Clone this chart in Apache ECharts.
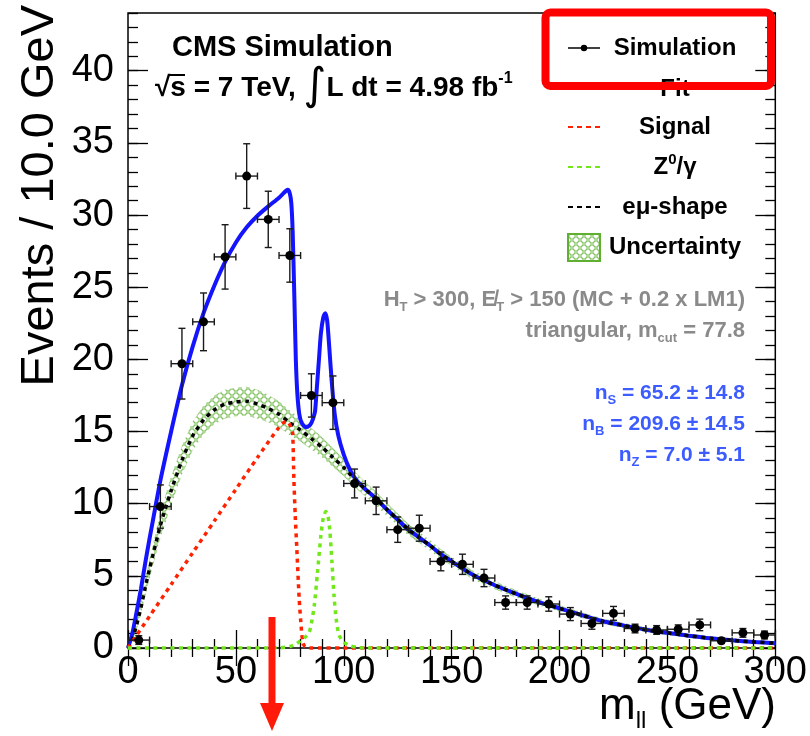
<!DOCTYPE html>
<html><head><meta charset="utf-8">
<script src="https://cdn.jsdelivr.net/npm/echarts@6/dist/echarts.min.js"></script>
<style>html,body{margin:0;padding:0;background:#fff}#c{width:810px;height:736px}</style>
</head><body><div id="c"></div>
<script>
// ---------------- data ----------------
const xTickValues = [0, 50, 100, 150, 200, 250, 300];
const yTickValues = [0, 5, 10, 15, 20, 25, 30, 35, 40];
const yMax = 44;
const binWidth = 10;

const binCenters = [5,15,25,35,45,55,65,75,85,95,105,115,125,135,145,155,165,175,185,195,205,215,225,235,245,255,265,275,285,295];
const simValues  = [0.55,9.8,19.7,22.6,27.1,32.7,29.7,27.2,17.5,17.0,11.4,10.2,8.2,8.3,6.0,5.8,4.85,3.15,3.15,3.05,2.35,1.7,2.4,1.35,1.25,1.3,1.6,0.5,1.05,0.9];
const simErrors  = [0.3,1.5,2.45,2.0,2.23,2.24,1.95,1.85,1.5,1.85,1.0,0.95,0.88,0.9,0.65,0.7,0.6,0.46,0.46,0.5,0.45,0.4,0.48,0.3,0.3,0.3,0.4,0.18,0.3,0.27];

const fitX = [0,2,4,6,8,10,12,15,20,25,30,35,40,45,50,55,60,65,70,72,74,75,75.7,76.3,77.1,77.8,78.5,79.4,80.5,82.5,84,85,86,86.7,87.5,88.5,89.4,90.5,91.4,92.3,93.2,94.4,95.8,97.5,100,103,106,110,115,120,125,130,135,140,145,150,160,170,180,190,200,210,220,230,240,250,260,270,280,290,300];
const fitY = [0,1.0,2.5,4.1,5.9,7.6,9.2,11.6,15.0,18.2,20.9,23.2,25.1,26.75,28.1,29.15,29.95,30.6,31.2,31.5,31.75,31.5,30.8,28.9,24.3,19.9,17.6,16.2,15.6,15.3,15.4,15.6,16.0,16.4,18.0,20.0,21.8,22.9,23.2,22.7,21.0,18.5,16.2,14.7,13.4,12.3,11.6,11.0,10.35,9.6,8.9,8.2,7.65,7.1,6.5,6.0,5.05,4.35,3.75,3.2,2.75,2.3,1.85,1.55,1.27,1.05,0.85,0.67,0.53,0.42,0.33];

const emuX = [0,2,4,6,8,10,12,15,20,25,30,35,40,45,50,55,60,65,70,75,80,85,90,95,100,105,110,115,120,125,130,135,140,145,150,160,170,180,190,200,210,220,230,240,250,260,270,280,290,300];
const emuY = [0,0.6,1.6,2.8,4.2,5.5,6.7,8.5,10.9,13.0,14.7,15.8,16.5,16.9,17.05,17.1,16.9,16.6,16.2,15.6,15.1,14.5,13.9,13.2,12.5,11.7,11.0,10.35,9.6,8.9,8.2,7.65,7.1,6.5,6.0,5.05,4.35,3.75,3.2,2.75,2.3,1.85,1.55,1.27,1.05,0.85,0.67,0.53,0.42,0.33];
const bandLo = [0,0.4,1.25,2.3,3.6,4.8,5.95,7.6,9.9,12.0,13.7,14.8,15.5,15.9,16.05,16.1,15.9,15.65,15.3,14.75,14.3,13.75,13.2,12.55,11.9,11.15,10.5,9.87,9.15,8.48,7.8,7.27,6.74,6.16,5.68,4.75,4.07,3.49,2.96,2.53,2.1,1.66,1.37,1.1,0.89,0.7,0.53,0.4,0.3,0.21];
const bandHi = [0,0.8,1.95,3.3,4.8,6.2,7.45,9.4,11.9,14.0,15.7,16.8,17.5,17.9,18.05,18.1,17.9,17.55,17.1,16.45,15.9,15.25,14.6,13.85,13.1,12.25,11.5,10.83,10.05,9.32,8.6,8.03,7.46,6.84,6.32,5.35,4.63,4.01,3.44,2.97,2.5,2.04,1.73,1.44,1.21,1.0,0.81,0.66,0.54,0.45];

const sigX = [0,10,20,30,40,50,60,70,72,73.5,74.5,75.5,76.3,76.9,77.5,78.2,79.3,80.1,81,82,84,100,150,200,250,300];
const sigY = [0,2.2,4.4,6.6,8.8,11.0,13.2,15.3,15.6,15.7,15.6,15.3,14.9,11.6,9.2,7.0,3.5,1.8,0.4,0.1,0,0,0,0,0,0];

const zX = [0,50,70,75,78,80,81,82.5,84,85,86.3,87.8,89.4,90.5,91.7,92.6,93.5,94.5,95.5,96.5,97.8,100,103,106,110,150,200,250,300];
const zY = [0,0,0.02,0.1,0.3,0.5,0.6,0.8,1.1,1.7,2.9,5.2,7.8,9.0,9.45,9.2,8.2,6.0,3.6,2.0,0.9,0.4,0.15,0.05,0,0,0,0,0];

// ---------------- chart ----------------
const F = '"Liberation Sans", Arial, Helvetica, sans-serif';
const chart = echarts.init(document.getElementById('c'), null, {renderer: 'canvas'});
const pair = (xs, ys) => xs.map((x, i) => [x, ys[i]]);

const pat = document.createElement('canvas');
pat.width = 8; pat.height = 8;
const pg = pat.getContext('2d');
pg.strokeStyle = '#86c466'; pg.lineWidth = 1;
[[0,0],[8,0],[0,8],[8,8],[4,4]].forEach(([cx, cy]) => { pg.beginPath(); pg.arc(cx, cy, 3.1, 0, Math.PI * 2); pg.stroke(); });
const hatch = {image: pat, repeat: 'repeat'};

const tickStyle = {color: '#000', width: 1.3};
const xMin = xTickValues[0], xMax = xTickValues[xTickValues.length - 1], xStep = xTickValues[1] - xTickValues[0];
const yStep = yTickValues[1] - yTickValues[0];

function xAx(pos, showLabel) {
  return {type: 'value', position: pos, min: xMin, max: xMax, interval: xStep,
    axisLine: {show: false}, splitLine: {show: false},
    axisTick: {inside: true, length: 18, lineStyle: tickStyle},
    minorTick: {show: true, splitNumber: 5, length: 9, lineStyle: tickStyle},
    axisLabel: {show: showLabel, color: '#000', fontSize: 38, fontFamily: F, margin: 6}};
}
function yAx(pos, step, len, showLabel) {
  return {type: 'value', position: pos, min: 0, max: yMax, interval: step,
    axisLine: {show: false}, splitLine: {show: false},
    axisTick: {inside: true, length: len, lineStyle: tickStyle},
    axisLabel: {show: showLabel, color: '#000', fontSize: 38, fontFamily: F, margin: 14, showMaxLabel: false}};
}

const bandSeries = {
  type: 'custom', z: 1, clip: true, data: [[0, 0]],
  renderItem: (params, api) => {
    const pts = [];
    for (let i = 0; i < emuX.length; i++) pts.push(api.coord([emuX[i], bandHi[i]]));
    for (let i = emuX.length - 1; i >= 0; i--) pts.push(api.coord([emuX[i], bandLo[i]]));
    return {type: 'polygon', shape: {points: pts}, style: {fill: hatch, stroke: null}};
  }
};

const errSeries = {
  type: 'custom', z: 10, clip: true,
  data: binCenters.map((x, i) => [x, simValues[i], simErrors[i]]),
  renderItem: (params, api) => {
    const x = api.value(0), y = api.value(1), e = api.value(2);
    const c = api.coord([x, y]);
    const l = api.coord([x - binWidth / 2, y]);
    const r = api.coord([x + binWidth / 2, y]);
    const t = api.coord([x, y + e]);
    const b = api.coord([x, y - e]);
    const cap = 3.5;
    const st = {stroke: '#1a1a1a', lineWidth: 1.4};
    const ln = (x1, y1, x2, y2) => ({type: 'line', shape: {x1, y1, x2, y2}, style: st});
    return {type: 'group', children: [
      ln(l[0], l[1], r[0], r[1]),
      ln(t[0], t[1], b[0], b[1]),
      ln(l[0], l[1] - cap, l[0], l[1] + cap),
      ln(r[0], r[1] - cap, r[0], r[1] + cap),
      ln(t[0] - cap, t[1], t[0] + cap, t[1]),
      ln(b[0] - cap, b[1], b[0] + cap, b[1]),
      {type: 'circle', shape: {cx: c[0], cy: c[1], r: 4.5}, style: {fill: '#000'}}
    ]};
  }
};

function lineSeries(xs, ys, color, width, dash, z) {
  return {type: 'line', data: pair(xs, ys), symbol: 'none', smooth: 0.25, clip: false, z,
    lineStyle: {color, width, type: dash || 'solid'}};
}

const B = 'bold';
function txt(x, y, text, o) {
  return {type: 'text', x, y, z: 100, style: Object.assign({text, fontFamily: F, fill: '#000',
    verticalAlign: 'middle', align: 'left', fontWeight: B, fontSize: 24}, o || {})};
}
function sub(fs, lh) { return {fontSize: fs, fontWeight: B, fontFamily: F, lineHeight: lh, verticalAlign: 'bottom'}; }
function sup(fs, lh) { return {fontSize: fs, fontWeight: B, fontFamily: F, lineHeight: lh, verticalAlign: 'top'}; }
function main(fs, lh, col) { return {fontSize: fs, fontWeight: B, fontFamily: F, lineHeight: lh, fill: col}; }

const gray = '#8a8a8a', blueTxt = '#3d5cff';
const legCX = 675;

const graphics = [
  txt(172, 48, 'CMS Simulation', {fontSize: 29}),
  txt(155, 88, '{r|√s = 7 TeV, }{i|∫}{r|L dt = 4.98 fb}{s|-1}', {rich: {
    r: main(28, 34), i: {fontSize: 44, fontFamily: '"DejaVu Sans", sans-serif', lineHeight: 34},
    s: sup(16, 16)}}),
  {type: 'line', z: 100, shape: {x1: 168, y1: 75, x2: 185, y2: 75}, style: {stroke: '#000', lineWidth: 2}},
  // legend
  {type: 'line', z: 100, shape: {x1: 568, y1: 48, x2: 600, y2: 48}, style: {stroke: '#000', lineWidth: 1.5}},
  {type: 'circle', z: 100, shape: {cx: 584, cy: 48, r: 3.2}, style: {fill: '#000'}},
  txt(legCX, 48, 'Simulation', {align: 'center'}),
  txt(legCX, 89, 'Fit', {align: 'center'}),
  {type: 'line', z: 100, shape: {x1: 568, y1: 127, x2: 600, y2: 127}, style: {stroke: '#ff2200', lineWidth: 2, lineDash: [5, 4]}},
  txt(legCX, 127, 'Signal', {align: 'center'}),
  {type: 'line', z: 100, shape: {x1: 568, y1: 167, x2: 600, y2: 167}, style: {stroke: '#70e81a', lineWidth: 2, lineDash: [5, 4]}},
  txt(legCX, 167, '{r|Z}{s|0}{r|/γ}', {align: 'center', rich: {r: main(24, 30), s: sup(15, 16)}}),
  {type: 'line', z: 100, shape: {x1: 568, y1: 207, x2: 600, y2: 207}, style: {stroke: '#000', lineWidth: 2, lineDash: [5, 4]}},
  txt(legCX, 207, 'eμ-shape', {align: 'center'}),
  {type: 'rect', z: 100, shape: {x: 568, y: 234, width: 32, height: 27}, style: {fill: hatch, stroke: '#5fb030', lineWidth: 2}},
  txt(legCX, 247, 'Uncertainty', {align: 'center'}),
  // info
  txt(745, 300, '{r|H}{b|T}{r| > 300, E̸}{b|T}{r| > 150 (MC + 0.2 x LM1)}', {align: 'right', rich: {r: main(22, 28, gray), b: Object.assign(sub(13, 14), {fill: gray})}}),
  txt(745, 331, '{r|triangular, m}{b|cut}{r| = 77.8}', {align: 'right', rich: {r: main(22, 28, gray), b: Object.assign(sub(13, 14), {fill: gray})}}),
  txt(745, 393, '{r|n}{b|S}{r| = 65.2 ± 14.8}', {align: 'right', rich: {r: main(21, 28, blueTxt), b: Object.assign(sub(13, 14), {fill: blueTxt})}}),
  txt(745, 424, '{r|n}{b|B}{r| = 209.6 ± 14.5}', {align: 'right', rich: {r: main(21, 28, blueTxt), b: Object.assign(sub(13, 14), {fill: blueTxt})}}),
  txt(745, 455, '{r|n}{b|Z}{r| = 7.0 ± 5.1}', {align: 'right', rich: {r: main(21, 28, blueTxt), b: Object.assign(sub(13, 14), {fill: blueTxt})}}),
  // axis titles
  {type: 'text', x: 40, y: 5, rotation: Math.PI / 2, z: 100,
    style: {text: 'Events / 10.0 GeV', fontFamily: F, fontSize: 47, fill: '#000', align: 'right', verticalAlign: 'middle'}},
  {type: 'text', x: 776, y: 707, z: 100,
    style: {text: '{m|m}{l|ll}{r| (GeV)}', align: 'right', verticalAlign: 'middle', fill: '#000',
      rich: {m: {fontSize: 44, fontFamily: F, lineHeight: 52}, r: {fontSize: 44, fontFamily: F, lineHeight: 52},
        l: {fontSize: 24, fontFamily: F, lineHeight: 26, verticalAlign: 'bottom'}}}},
  // annotations
  {type: 'rect', z: 110, shape: {x: 545.5, y: 12.5, width: 225.5, height: 73.5, r: 5}, style: {fill: 'none', stroke: '#ff0000', lineWidth: 8}},
  {type: 'polygon', z: 110, shape: {points: [[268.5, 617], [275.5, 617], [275.5, 703], [284, 703], [272, 731], [260, 703], [268.5, 703]]}, style: {fill: '#ff1a0a'}}
];

chart.setOption({
  animation: false,
  backgroundColor: '#fff',
  grid: {left: 128, right: 32, top: 13, bottom: 88, show: true, borderColor: '#000', borderWidth: 1.5, backgroundColor: 'transparent'},
  xAxis: [xAx('bottom', true), xAx('top', false)],
  yAxis: [yAx('left', yStep, 20, true), yAx('left', 1, 10, false), yAx('right', yStep, 20, false), yAx('right', 1, 10, false)],
  series: [
    bandSeries,
    lineSeries(fitX, fitY, '#1414ff', 4, 'solid', 3),
    lineSeries(emuX, emuY, '#000', 3.5, [4, 4.5], 4),
    lineSeries(sigX, sigY, '#ff2200', 3.5, [4, 4.5], 5),
    lineSeries(zX, zY, '#70e81a', 3.5, [4, 4.5], 5),
    errSeries
  ],
  graphic: graphics
});
</script>
</body></html>
